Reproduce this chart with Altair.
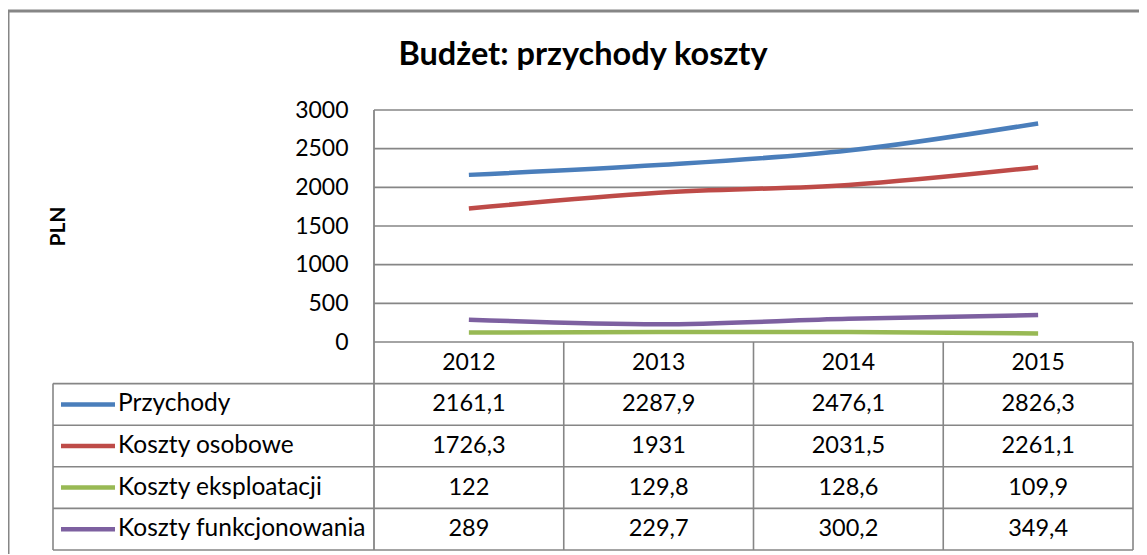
import altair as alt
import pandas as pd

# ---- data ----
years = ["2012", "2013", "2014", "2015"]
series = ["Przychody", "Koszty osobowe", "Koszty eksploatacji", "Koszty funkcjonowania"]
przychody = [2161.1, 2287.9, 2476.1, 2826.3]
koszty_osobowe = [1726.3, 1931, 2031.5, 2261.1]
koszty_eksploatacji = [122, 129.8, 128.6, 109.9]
koszty_funkcjonowania = [289, 229.7, 300.2, 349.4]
y_ticks = [0, 500, 1000, 1500, 2000, 2500, 3000]
colors = ["#4A7EBB", "#BE4B48", "#98B954", "#7D60A0"]
chart_title = "Budżet: przychody koszty"
y_title = "PLN"
header_key = "header"

# ---- layout / style ----
FONT = "Lato"
PAD_LEFT, PAD_TOP = 45, 102
W, H = 1080, 440
PLOT_LEFT = 321
PLOT_H = 232
GRAY = "#868686"

values = [przychody, koszty_osobowe, koszty_eksploatacji, koszty_funkcjonowania]
rows = []
for s, vals in zip(series, values):
    for yr, v in zip(years, vals):
        rows.append({"series": s, "year": yr, "value": v,
                     "label": f"{v:g}".replace(".", ",")})
df = pd.DataFrame(rows)
df_series = pd.DataFrame({"series": series, "row": series})
df_years = pd.DataFrame({"year": years, "row": [header_key] * len(years)})
df_ticks = pd.DataFrame({"tick": y_ticks})
df_rows = pd.DataFrame({"row": [header_key] + series})

x_scale = alt.Scale(type="band", domain=years, range=[PLOT_LEFT, W],
                    paddingInner=0, paddingOuter=0)
v_scale = alt.Scale(domain=[0, 3000], range=[PLOT_H, 0], nice=False)
row_scale = alt.Scale(type="band", domain=[header_key] + series, range=[PLOT_H, H],
                      paddingInner=0, paddingOuter=0)
c_scale = alt.Scale(domain=series, range=colors)

# gridlines + y axis
grid = alt.Chart(df_ticks).mark_rule(color=GRAY, strokeWidth=1.6).encode(
    y=alt.Y("tick:Q", scale=v_scale,
            axis=alt.Axis(offset=-PLOT_LEFT, grid=False, domain=False, ticks=False,
                          values=y_ticks, format="d", labelPadding=26,
                          labelFont=FONT, labelFontSize=23, labelColor="black",
                          title=y_title, titleFont=FONT, titleFontSize=21,
                          titleFontWeight="bold", titleColor="black",
                          titleAngle=270, titleAlign="center", titleBaseline="middle",
                          titleX=-316, titleY=116)),
    x=alt.value(PLOT_LEFT), x2=alt.value(W),
)

lines = alt.Chart(df).mark_line(strokeWidth=4.5, interpolate="monotone").encode(
    x=alt.X("year:N", scale=x_scale, bandPosition=0.5, axis=None),
    y=alt.Y("value:Q", scale=v_scale, axis=None),
    color=alt.Color("series:N", scale=c_scale, legend=None),
    detail="series:N",
)

# table horizontal lines (bottom of each row)
hlines = alt.Chart(df_rows).mark_rule(color=GRAY, strokeWidth=1.6).encode(
    y=alt.Y("row:N", scale=row_scale, bandPosition=1, axis=None),
    x=alt.value(0), x2=alt.value(W),
)

# vertical lines
v_left_plot = alt.Chart(df_years.iloc[[0]]).mark_rule(color=GRAY, strokeWidth=1.8).encode(
    x=alt.X("year:N", scale=x_scale, bandPosition=0, axis=None),
    y=alt.value(0), y2=alt.value(H),
)
v_cols = alt.Chart(df_years.iloc[1:]).mark_rule(color=GRAY, strokeWidth=1.6).encode(
    x=alt.X("year:N", scale=x_scale, bandPosition=0, axis=None),
    y=alt.value(PLOT_H), y2=alt.value(H),
)
v_right = alt.Chart(df_years.iloc[[-1]]).mark_rule(color=GRAY, strokeWidth=1.6).encode(
    x=alt.X("year:N", scale=x_scale, bandPosition=1, axis=None),
    y=alt.value(PLOT_H), y2=alt.value(H),
)
v_table_left = alt.Chart(df_series.iloc[[0]]).mark_rule(color=GRAY, strokeWidth=1.6).encode(
    y=alt.Y("row:N", scale=row_scale, bandPosition=0, axis=None),
    y2=alt.value(H),
    x=alt.value(0),
)

header_text = alt.Chart(df_years).mark_text(font=FONT, fontSize=23, color="black",
                                            baseline="middle").encode(
    x=alt.X("year:N", scale=x_scale, bandPosition=0.5, axis=None),
    y=alt.Y("row:N", scale=row_scale, bandPosition=0.5, axis=None),
    text="year:N",
)

cell_text = alt.Chart(df).mark_text(font=FONT, fontSize=23.5, color="black",
                                    baseline="middle").encode(
    x=alt.X("year:N", scale=x_scale, bandPosition=0.5, axis=None),
    y=alt.Y("series:N", scale=row_scale, bandPosition=0.5, axis=None),
    text="label:N",
)

keys = alt.Chart(df_series).mark_rule(strokeWidth=4.5).encode(
    y=alt.Y("row:N", scale=row_scale, bandPosition=0.5, axis=None),
    x=alt.value(8), x2=alt.value(62),
    color=alt.Color("series:N", scale=c_scale, legend=None),
)
key_text = alt.Chart(df_series).mark_text(font=FONT, fontSize=24.5, color="black",
                                          align="left", baseline="middle").encode(
    y=alt.Y("row:N", scale=row_scale, bandPosition=0.5, axis=None),
    x=alt.value(65),
    text="series:N",
)

border_top = alt.Chart(df_series.iloc[[0]]).mark_rule(color=GRAY, strokeWidth=3).encode(
    x=alt.value(-PAD_LEFT), x2=alt.value(W + 20), y=alt.value(3 - PAD_TOP),
)
border_left = alt.Chart(df_series.iloc[[0]]).mark_rule(color=GRAY, strokeWidth=3).encode(
    x=alt.value(-PAD_LEFT), y=alt.value(3 - PAD_TOP), y2=alt.value(H + 20),
)

chart = alt.layer(
    grid, hlines, v_left_plot, v_cols, v_right, v_table_left,
    header_text, cell_text, keys, key_text, lines, border_top, border_left,
).resolve_scale(y="independent").properties(
    width=W, height=H,
    title=alt.TitleParams(chart_title, font=FONT, fontSize=32.5, fontWeight="bold",
                          color="black", anchor="middle", frame="group", dx=-10,
                          offset=-62),
    autosize=alt.AutoSizeParams(type="none"),
    padding={"left": PAD_LEFT, "top": PAD_TOP, "right": 6, "bottom": 4},
).configure_view(stroke=None)

chart.save("out.html", embed_options={"renderer": "svg", "actions": False})
